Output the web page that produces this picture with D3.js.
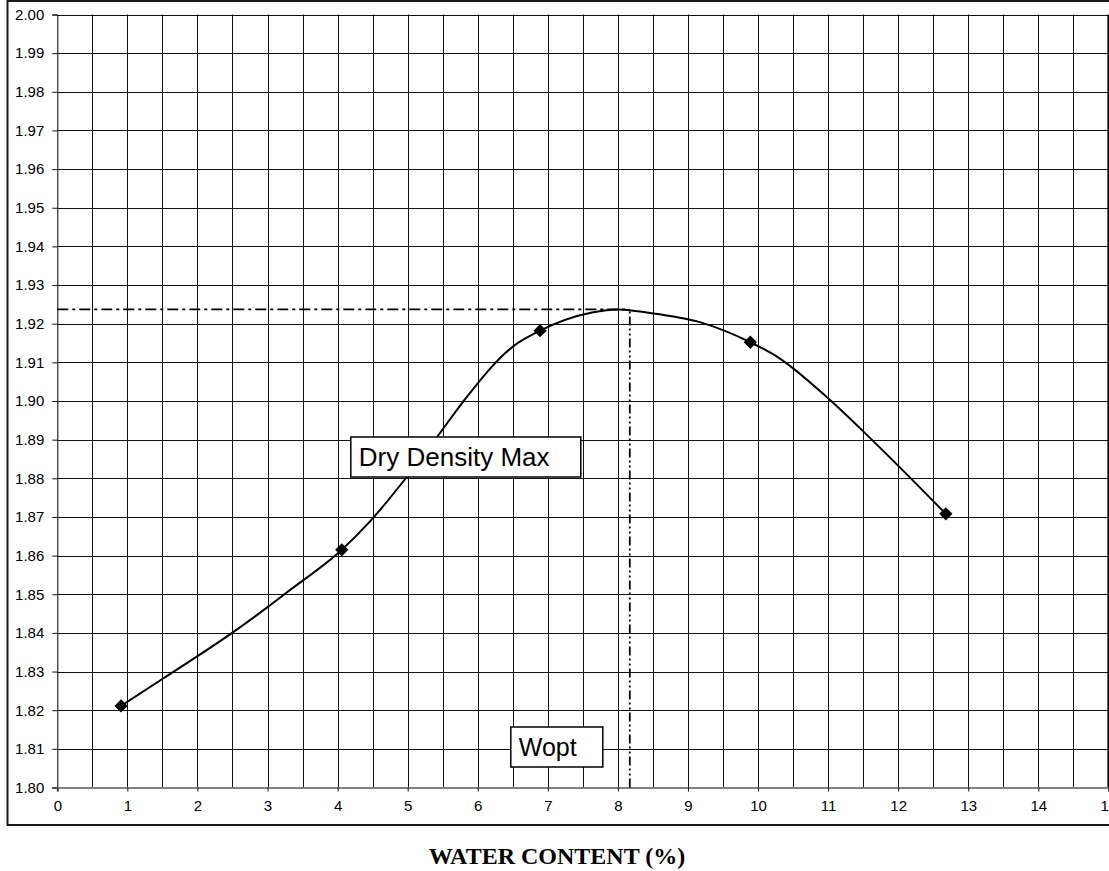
<!DOCTYPE html>
<html>
<head>
<meta charset="utf-8">
<script src="https://cdn.jsdelivr.net/npm/d3@7"></script>
<style>
  body { margin: 0; background: #fff; }
  svg { display: block; }
</style>
</head>
<body>
<div id="chart"></div>
<script>
var width = 1109;
var height = 871;
var margin = {top: 14.5, right: 0.6, bottom: 83.5, left: 57.3};
var w = width - margin.left - margin.right;
var h = height - margin.top - margin.bottom;

// axis ticks
var xTicks = [0, 1, 2, 3, 4, 5, 6, 7, 8, 9, 10, 11, 12, 13, 14, 15];
var xGridSteps = [0.5, 1, 1.5, 2, 2.5, 3, 3.5, 4, 4.5, 5, 5.5, 6, 6.5, 7, 7.5, 8, 8.5, 9, 9.5, 10, 10.5, 11, 11.5, 12, 12.5, 13, 13.5, 14, 14.5];
var yTicks = [1.80, 1.81, 1.82, 1.83, 1.84, 1.85, 1.86, 1.87, 1.88, 1.89, 1.90, 1.91, 1.92, 1.93, 1.94, 1.95, 1.96, 1.97, 1.98, 1.99, 2.00];

// measured points (diamonds)
var waterContent = [0.91, 4.06, 6.89, 9.89, 12.68];
var dryDensity = [1.8211, 1.8615, 1.9182, 1.9152, 1.8708];

// fitted curve
var curveWater = [0.91, 1.51, 2.51, 3.01, 3.27, 4.06, 4.44, 4.99, 5.44, 5.79, 6.51, 6.89, 7.63, 8.01, 8.41, 9.17, 9.89, 10.27, 11.00, 11.60, 12.68];
var curveDensity = [1.8211, 1.8282, 1.8402, 1.8468, 1.8504, 1.8615, 1.8684, 1.8804, 1.8912, 1.8998, 1.9142, 1.9182, 1.9229, 1.9237, 1.9229, 1.9204, 1.9152, 1.9115, 1.9007, 1.8904, 1.8708];

// optimum
var wOpt = 8.17;
var dryMax = 1.9237;

// annotation boxes (top-left corner in data units)
var labelText = ["Dry Density Max", "Wopt"];
var labelX = [4.18, 6.46];
var labelY = [1.8909, 1.8157];

var svg = d3.select("#chart").append("svg")
  .attr("width", width)
  .attr("height", height);

// outer frame
svg.append("rect")
  .attr("x", 7.5)
  .attr("y", 1)
  .attr("width", width + 10)
  .attr("height", 824)
  .attr("fill", "#fff")
  .attr("stroke", "#1a1a1a")
  .attr("stroke-width", 2);

var g = svg.append("g")
  .attr("transform", "translate(" + margin.left + "," + margin.top + ")");

var x = d3.scaleLinear().domain([0, 15]).range([0, w]);
var y = d3.scaleLinear().domain([1.80, 2.00]).range([h, 0]);

function crisp(v) { return Math.round(v) + 0.5; }

// horizontal grid lines
g.selectAll(".hgrid")
  .data(yTicks.slice(1))
  .enter().append("line")
  .attr("class", "hgrid")
  .attr("x1", 0)
  .attr("x2", w)
  .attr("y1", function(d) { return crisp(y(d) + margin.top) - margin.top; })
  .attr("y2", function(d) { return crisp(y(d) + margin.top) - margin.top; })
  .attr("stroke", "#111")
  .attr("stroke-width", 1);

// vertical grid lines
g.selectAll(".vgrid")
  .data(xGridSteps)
  .enter().append("line")
  .attr("class", "vgrid")
  .attr("x1", function(d) { return crisp(x(d) + margin.left) - margin.left; })
  .attr("x2", function(d) { return crisp(x(d) + margin.left) - margin.left; })
  .attr("y1", 0)
  .attr("y2", h)
  .attr("stroke", "#111")
  .attr("stroke-width", 1);

// right edge of plot
g.append("line")
  .attr("x1", x(15)).attr("x2", x(15))
  .attr("y1", 0).attr("y2", h)
  .attr("stroke", "#000")
  .attr("stroke-width", 2);

// y axis
var yAxis = d3.axisLeft(y)
  .tickValues(yTicks)
  .tickSize(5)
  .tickPadding(8)
  .tickFormat(d3.format(".2f"));
var gy = g.append("g").call(yAxis);
gy.select(".domain").attr("stroke", "#000").attr("stroke-width", 1);
gy.selectAll(".tick line").attr("stroke", "#111");
gy.selectAll("text")
  .attr("font-family", "Arial, 'Liberation Sans', sans-serif")
  .attr("font-size", 15)
  .attr("fill", "#000");

// x axis
var xAxis = d3.axisBottom(x)
  .tickValues(xTicks)
  .tickSize(4)
  .tickPadding(9)
  .tickFormat(d3.format("d"));
var gx = g.append("g")
  .attr("transform", "translate(0," + h + ")")
  .call(xAxis);
gx.select(".domain").attr("stroke", "#808080").attr("stroke-width", 2);
gx.selectAll(".tick line").attr("stroke", "#111");
gx.selectAll("text")
  .attr("font-family", "Arial, 'Liberation Sans', sans-serif")
  .attr("font-size", 15)
  .attr("fill", "#000");

// reference lines for the optimum
g.append("line")
  .attr("x1", x(0)).attr("x2", x(wOpt))
  .attr("y1", y(dryMax)).attr("y2", y(dryMax))
  .attr("stroke", "#000")
  .attr("stroke-width", 1.8)
  .attr("stroke-dasharray", "11,4,3,4");

g.append("line")
  .attr("x1", x(wOpt)).attr("x2", x(wOpt))
  .attr("y1", y(1.80)).attr("y2", y(dryMax))
  .attr("stroke", "#000")
  .attr("stroke-width", 1.8)
  .attr("stroke-dasharray", "9,3,2,3,2,3");

// curve
var curvePts = curveWater.map(function(d, i) { return [d, curveDensity[i]]; });
var line = d3.line()
  .x(function(d) { return x(d[0]); })
  .y(function(d) { return y(d[1]); })
  .curve(d3.curveMonotoneX);

g.append("path")
  .datum(curvePts)
  .attr("d", line)
  .attr("fill", "none")
  .attr("stroke", "#000")
  .attr("stroke-width", 2);

// diamond markers
var pts = waterContent.map(function(d, i) { return {w: d, dd: dryDensity[i]}; });
g.selectAll(".marker")
  .data(pts)
  .enter().append("path")
  .attr("class", "marker")
  .attr("d", d3.symbol().type(d3.symbolSquare).size(88))
  .attr("transform", function(d) { return "translate(" + x(d.w) + "," + y(d.dd) + ") rotate(45)"; })
  .attr("fill", "#000");

// annotation boxes
var boxW = [230, 92];
var boxFont = [26, 25];
labelText.forEach(function(t, i) {
  var bx = Math.round(x(labelX[i])) + 0.5;
  var by = Math.round(y(labelY[i])) + 0.5;
  g.append("rect")
    .attr("x", bx)
    .attr("y", by)
    .attr("width", boxW[i])
    .attr("height", 40)
    .attr("fill", "#fff")
    .attr("stroke", "#000")
    .attr("stroke-width", 1.5);
  g.append("text")
    .attr("x", bx + 8)
    .attr("y", by + 29)
    .attr("font-family", "Arial, 'Liberation Sans', sans-serif")
    .attr("font-size", boxFont[i])
    .attr("fill", "#000")
    .text(t);
});

// x axis title
svg.append("text")
  .attr("x", 557)
  .attr("y", 864)
  .attr("text-anchor", "middle")
  .attr("font-family", "'Times New Roman', 'Liberation Serif', serif")
  .attr("font-weight", "bold")
  .attr("font-size", 24)
  .attr("fill", "#000")
  .text("WATER CONTENT (%)");
</script>
</body>
</html>
